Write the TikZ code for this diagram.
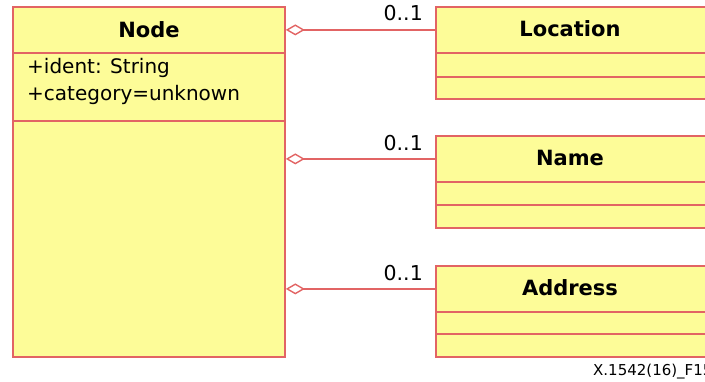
\documentclass[tikz,border=0pt]{standalone}
\usepackage{fontspec}
\setmainfont{DejaVu Sans}
\usetikzlibrary{arrows.meta}
\definecolor{umlfill}{RGB}{253,252,152}
\definecolor{umlline}{RGB}{226,100,100}
\begin{document}
\begin{tikzpicture}[x=1pt,y=-1pt,
  box/.style={draw=umlline,fill=umlfill,line width=1.8pt,rectangle,inner sep=0pt,anchor=north west},
  title/.style={font=\fontsize{21}{24}\selectfont\bfseries},
  attr/.style={font=\fontsize{20}{27}\selectfont,align=left,anchor=north west,inner sep=0pt},
  mult/.style={font=\fontsize{20.5}{24}\selectfont,anchor=base east,inner sep=0pt},
  aggr/.style={draw=umlline,line width=1.6pt,{Diamond[open,length=19pt,width=11pt,line width=1.4pt]}-}]
\useasboundingbox (0,0) rectangle (705,381);
\clip (0,0) rectangle (705,381);
% Node class
\node[box,minimum width=272pt,minimum height=46pt] (nodeh) at (12,6) {};
\node[title] at (nodeh.center) {Node};
\node[box,minimum width=272pt,minimum height=68pt] (nodea) at (12,52) {};
\node[attr] (nodeat) at (27,58) {+ident: String\\+category=unknown};
\node[box,minimum width=272pt,minimum height=236pt] (nodeo) at (12,120) {};
% Location
\node[box,minimum width=300pt,minimum height=46pt] (loch) at (435,6) {};
\node[title] at (570,29) {Location};
\node[box,minimum width=300pt,minimum height=24pt] (loca) at (435,52) {};
\node[box,minimum width=300pt,minimum height=22pt] (loco) at (435,76) {};
% Name
\node[box,minimum width=300pt,minimum height=46pt] (nameh) at (435,135) {};
\node[title] at (570,158) {Name};
\node[box,minimum width=300pt,minimum height=23pt] (namea) at (435,181) {};
\node[box,minimum width=300pt,minimum height=23pt] (nameo) at (435,204) {};
% Address
\node[box,minimum width=300pt,minimum height=46pt] (addrh) at (435,265) {};
\node[title] at (570,288) {Address};
\node[box,minimum width=300pt,minimum height=22pt] (addra) at (435,311) {};
\node[box,minimum width=300pt,minimum height=23pt] (addro) at (435,333) {};
% connectors
\draw[aggr] (nodeh.east |- loch.west) -- (loch.west);
\draw[aggr] (nodeh.east |- nameh.west) -- (nameh.west);
\draw[aggr] (nodeh.east |- addrh.west) -- (addrh.west);
\node[mult] (m1) at (423,20) {0..1};
\node[mult] (m2) at (423,150) {0..1};
\node[mult] (m3) at (423,280) {0..1};
% footer
\node[font=\fontsize{15}{17}\selectfont,anchor=base west,inner sep=0pt] (fig) at (593,375) {X.1542(16)\_F15};
\end{tikzpicture}
\end{document}
